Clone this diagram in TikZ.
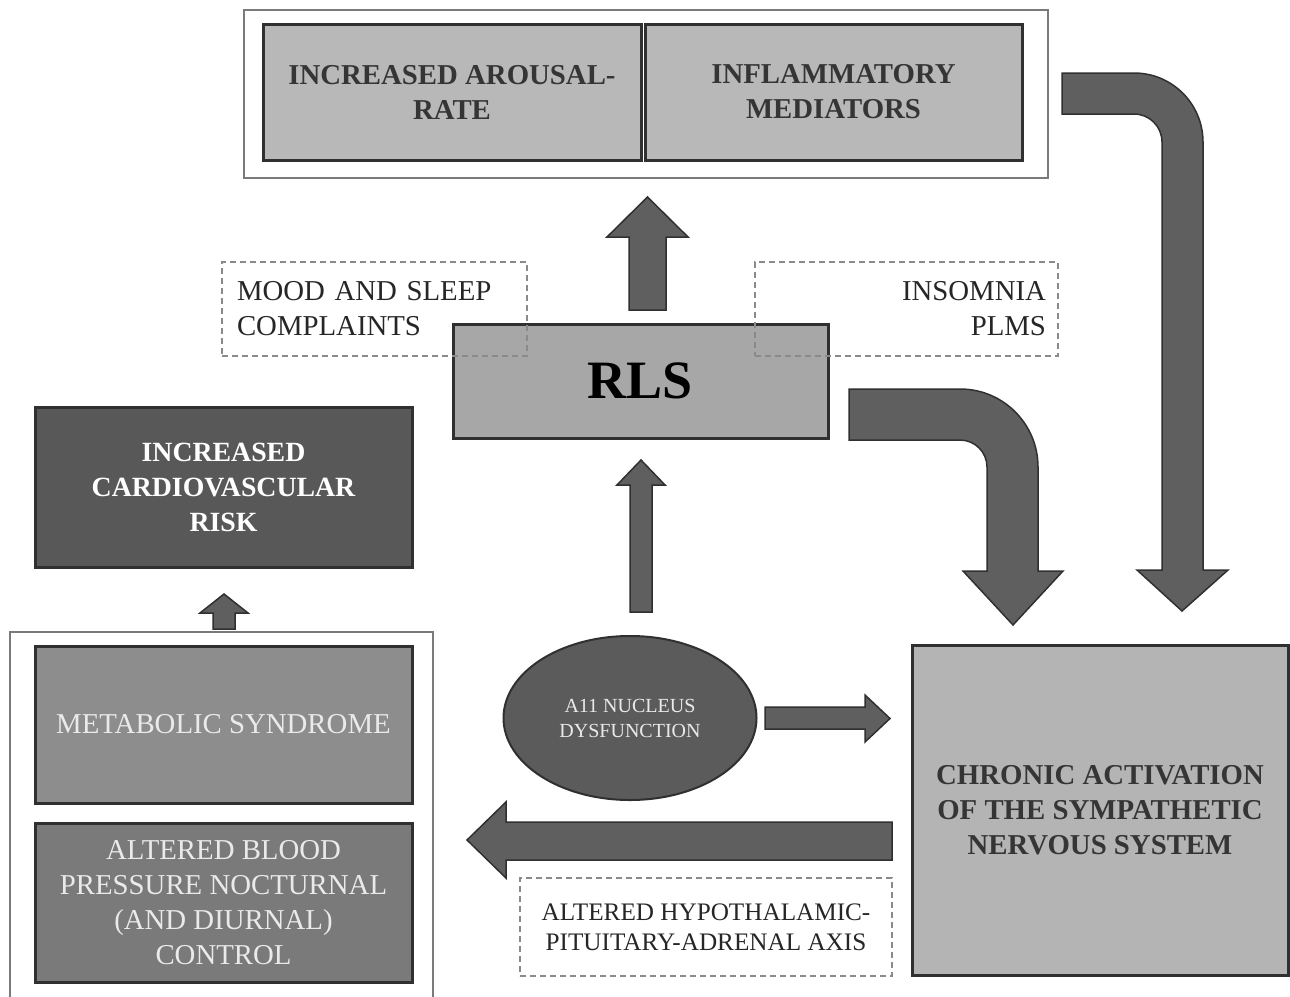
\documentclass[tikz,border=0pt]{standalone}
\usepackage{fontspec}
\setmainfont{Liberation Serif}
\usetikzlibrary{shapes.geometric}
\definecolor{framegray}{HTML}{7A7A7A}
\definecolor{edgegray}{HTML}{303030}
\definecolor{boxlight}{HTML}{B8B8B8}
\definecolor{rlsgray}{HTML}{A7A7A7}
\definecolor{riskgray}{HTML}{585858}
\definecolor{metgray}{HTML}{8D8D8D}
\definecolor{bpgray}{HTML}{7A7A7A}
\definecolor{nucgray}{HTML}{5B5B5B}
\definecolor{chronicgray}{HTML}{B4B4B4}
\definecolor{arrowgray}{HTML}{5F5F5F}
\definecolor{textdark}{HTML}{353535}
\definecolor{textlight}{HTML}{EAEAEA}
\definecolor{dashgray}{HTML}{8A8A8A}

\begin{document}
\begin{tikzpicture}[x=0.5pt, y=-0.5pt,
  frame/.style = {draw=framegray, line width=1pt, fill=white},
  lightbox/.style = {draw=edgegray, line width=1.5pt, fill=boxlight, text=textdark, align=center, font=\fontsize{14.4}{17.5}\selectfont\bfseries},
  rlsbox/.style = {draw=edgegray, line width=1.5pt, fill=rlsgray, text=black, font=\fontsize{27}{30}\selectfont\bfseries},
  darkbox/.style = {draw=edgegray, line width=1.5pt, fill=riskgray, text=white, align=center, font=\fontsize{13.9}{17.5}\selectfont\bfseries},
  midbox/.style = {draw=edgegray, line width=1.5pt, text=textlight, align=center, font=\fontsize{14.4}{17.5}\selectfont},
  dashbox/.style = {draw=dashgray, line width=0.75pt, dash pattern=on 3pt off 2pt, text=black!85, font=\fontsize{14.4}{17.5}\selectfont},
  nucleus/.style = {draw=edgegray, line width=1pt, fill=nucgray, ellipse, inner sep=0pt, text=textlight, align=center, font=\fontsize{10}{12.5}\selectfont},
  blockarrow/.style = {fill=arrowgray, draw=edgegray, line width=0.75pt, line join=miter}]
      \fill[white] (0,0) rectangle (1290,996);
      \useasboundingbox (0,0) rectangle (1290,996);

      \node[frame, minimum width=402pt, minimum height=84pt] (topframe) at (646,94) {};
      \node[lightbox, minimum width=189pt, minimum height=68pt] (arousal) at (452,92) {INCREASED AROUSAL-\\RATE};
      \node[lightbox, minimum width=188.5pt, minimum height=68pt] (inflam) at (833.5,92) {INFLAMMATORY\\MEDIATORS};

      \node[rlsbox, minimum width=187.5pt, minimum height=57pt] (rls) at (640.5,381) {\raisebox{-2pt}{RLS}};
      \node[dashbox, align=left, text width=137.5pt, inner xsep=7.5pt, minimum height=47pt] (mood) at (374.5,309) {MOOD AND SLEEP\\COMPLAINTS};
      \node[dashbox, align=right, text width=139.5pt, inner xsep=6pt, minimum height=47pt] (insomnia) at (906.5,309) {INSOMNIA\\PLMS};

      \node[darkbox, minimum width=188.5pt, minimum height=80pt] (cvrisk) at (223.5,487) {INCREASED\\CARDIOVASCULAR\\RISK};
      \node[frame, minimum width=211.5pt, minimum height=184pt] (leftframe) at (221.5,816) {};
      \node[midbox, fill=metgray, minimum width=188.5pt, minimum height=78.5pt] (metabolic) at (223.5,724.5) {METABOLIC SYNDROME};
      \node[midbox, fill=bpgray, minimum width=188.5pt, minimum height=79.5pt] (bloodpressure) at (223.5,902.5) {ALTERED BLOOD\\PRESSURE NOCTURNAL\\(AND DIURNAL)\\CONTROL};

      \node[nucleus, minimum width=126.5pt, minimum height=82pt] (a11) at (630,718) {A11 NUCLEUS\\DYSFUNCTION};
      \node[lightbox, fill=chronicgray, minimum width=188pt, minimum height=165pt] (chronic) at (1100,810) {CHRONIC ACTIVATION\\OF THE SYMPATHETIC\\NERVOUS SYSTEM};
      \node[dashbox, align=center, minimum width=186pt, minimum height=49pt, font=\fontsize{12.6}{15}\selectfont] (hpa) at (706,927) {ALTERED HYPOTHALAMIC-\\PITUITARY-ADRENAL AXIS};

      \draw[blockarrow] (629,310) -- (629,237) -- (607,237) -- (647.5,197) -- (688,237) -- (666,237) -- (666,310) -- cycle;
      \draw[blockarrow] (630,612) -- (630,485) -- (617,485) -- (641,460) -- (665,485) -- (652,485) -- (652,612) -- cycle;
      \draw[blockarrow] (213,629) -- (213,613) -- (200,613) -- (224,594) -- (248,613) -- (235,613) -- (235,629) -- cycle;
      \draw[blockarrow] (765,707) -- (865,707) -- (865,695) -- (890,718.5) -- (865,742) -- (865,729) -- (765,729) -- cycle;
      \draw[blockarrow] (892,822) -- (506,822) -- (506,802) -- (467,840) -- (506,878) -- (506,860) -- (892,860) -- cycle;
      \draw[blockarrow] (849,389) -- (960,389) arc[start angle=90, end angle=0, radius=39pt] -- (1038,571) -- (1063,571) -- (1013,625) -- (963,571) -- (987,571) -- (987,467) arc[start angle=0, end angle=90, radius=13.5pt] -- (849,440) -- cycle;
      \draw[blockarrow] (1062,73) -- (1134,73) arc[start angle=90, end angle=0, radius=34.5pt] -- (1203,570) -- (1228,570) -- (1182,611) -- (1137,570) -- (1162,570) -- (1162,142) arc[start angle=0, end angle=90, radius=14pt] -- (1062,114) -- cycle;
    \end{tikzpicture}
\end{document}
